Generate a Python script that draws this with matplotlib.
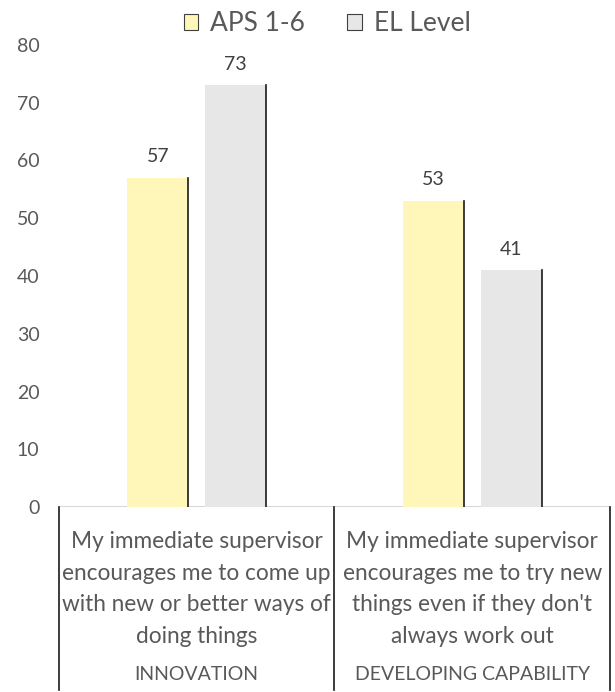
import matplotlib
matplotlib.use("Agg")
import matplotlib.pyplot as plt
from matplotlib.patches import Patch
import numpy as np

categories = [
    "My immediate supervisor\nencourages me to come up\nwith new or better ways of\ndoing things",
    "My immediate supervisor\nencourages me to try new\nthings even if they don't\nalways work out",
]
groups = ["INNOVATION", "DEVELOPING CAPABILITY"]
series = ["APS 1-6", "EL Level"]
aps = [57, 53]
el = [73, 41]
yticks = [0, 10, 20, 30, 40, 50, 60, 70, 80]

colors = ["#FFF7BA", "#E7E7E7"]
txt = "#595959"
plt.rcParams["font.family"] = ["Lato", "DejaVu Sans"]

fig = plt.figure(figsize=(6.15, 6.92), dpi=100)
ax = fig.add_axes([0.0959, 0.2673, 0.896, 0.6677])

x = np.arange(len(categories))
w = 0.221
off = 0.141
for vals, c, sgn in [(aps, colors[0], -1), (el, colors[1], 1)]:
    bars = ax.bar(x + sgn * off, vals, w, color=c, edgecolor="none", zorder=2)
    for b, v in zip(bars, vals):
        xr = b.get_x() + b.get_width()
        ax.plot([xr, xr], [0, v], color="#1a1a1a", lw=1.2, zorder=3)
        ax.text(b.get_x() + b.get_width() / 2, v + 2.2, str(v), ha="center",
                va="bottom", fontsize=14, color="#404040")

ax.set_xlim(-0.5, 1.5)
ax.set_ylim(0, 80)
ax.set_yticks(yticks)
ax.tick_params(axis="y", length=0, pad=14, labelsize=14, labelcolor=txt)
ax.set_xticks([])
for s in ax.spines.values():
    s.set_visible(False)
ax.axhline(0, color="#D0D0D0", lw=1.2, zorder=1)

tr = ax.get_xaxis_transform()
for xb in [-0.5, 0.5, 1.5]:
    ax.plot([xb, xb], [0, -0.396], color="#1a1a1a", lw=1.2, transform=tr, clip_on=False)
for xi, cat, g in zip(x, categories, groups):
    ax.text(xi, -0.052, cat, transform=tr, ha="center", va="top", fontsize=16.3,
            color=txt, linespacing=1.62)
    ax.text(xi, -0.362, g, transform=tr, ha="center", va="center", fontsize=14,
            color=txt)

handles = [Patch(facecolor=c, edgecolor="#404040", lw=0.8) for c in colors]
fig.legend(handles, series, loc="center", bbox_to_anchor=(0.532, 0.966), ncol=2,
           frameon=False, fontsize=19, labelcolor=txt, handlelength=0.55,
           handleheight=0.55, handletextpad=0.45, columnspacing=1.6)

fig.savefig("out.png", dpi=100)
